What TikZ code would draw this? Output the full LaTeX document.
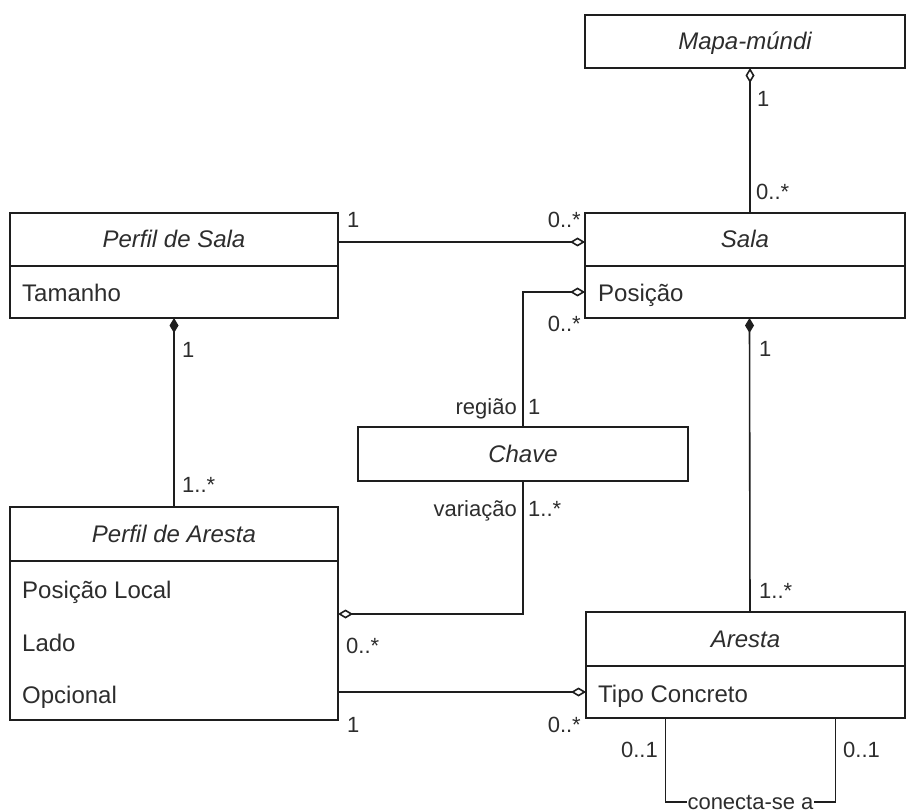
\documentclass[tikz,border=0pt]{standalone}
\usepackage{fontspec}
\setmainfont{Liberation Sans}
\usetikzlibrary{arrows.meta, positioning}
\usepackage{xcolor}
\definecolor{zline}{RGB}{30, 30, 30}
\definecolor{ztext}{RGB}{45, 45, 45}

\begin{document}
\begin{tikzpicture}[
  x=1pt, y=-1pt,
  headbox/.style={rectangle, draw=zline, line width=1.5pt, outer sep=0pt, inner sep=0pt,
                  minimum height=53pt, text height=17pt, text depth=0pt,
                  font=\fontsize{24}{28}\selectfont\itshape, text=ztext},
  bodybox/.style={rectangle, draw=zline, line width=1.5pt, outer sep=0pt, inner sep=0pt},
  attrtext/.style={anchor=base west, inner sep=0pt, font=\fontsize{24}{28}\selectfont, text=ztext},
  multtext/.style={inner sep=0pt, font=\fontsize{22}{26}\selectfont, text=ztext},
  assoc/.style={line width=1.6pt, zline},
  agg/.style={assoc, -{Diamond[open, length=15pt, width=9pt]}},
  comp/.style={assoc, -{Diamond[length=15pt, width=9pt]}}
]
\useasboundingbox (0,0) rectangle (906,810);

% Classes
\node[headbox, minimum width=320pt] (mapa) at (745,41.5) {Mapa-múndi};

\node[headbox, minimum width=320pt] (sala) at (745,239.5) {Sala};
\node[bodybox, minimum width=320pt, minimum height=52pt, below=0pt of sala] (salab) {};
\node[attrtext] (salapos) at ([xshift=13pt, yshift=-36pt]salab.north west) {Posição};

\node[headbox, minimum width=328pt] (psala) at (174,239.5) {Perfil de Sala};
\node[bodybox, minimum width=328pt, minimum height=52pt, below=0pt of psala] (psalab) {};
\node[attrtext] (psalatam) at ([xshift=12pt, yshift=-36pt]psalab.north west) {Tamanho};

\node[headbox, minimum width=330pt, minimum height=54pt] (chave) at (523,454) {Chave};

\node[headbox, minimum width=328pt, minimum height=54pt] (pares) at (174,534) {Perfil de Aresta};
\node[bodybox, minimum width=328pt, minimum height=159pt, below=0pt of pares] (paresb) {};
\node[attrtext] (paresloc) at ([xshift=12pt, yshift=-37pt]paresb.north west) {Posição Local};
\node[attrtext] (pareslado) at ([xshift=12pt, yshift=-90pt]paresb.north west) {Lado};
\node[attrtext] (paresopc) at ([xshift=12pt, yshift=-142pt]paresb.north west) {Opcional};

\node[headbox, minimum width=319pt, minimum height=54pt] (aresta) at (745.5,639) {Aresta};
\node[bodybox, minimum width=319pt, minimum height=52pt, below=0pt of aresta] (arestab) {};
\node[attrtext] (arestatipo) at ([xshift=12pt, yshift=-36pt]arestab.north west) {Tipo Concreto};

% Associations
\draw[agg] ([xshift=5pt]sala.north) -- ([xshift=5pt]mapa.south);
\draw[agg] ([yshift=-2.5pt]psala.east) -- ([yshift=-2.5pt]sala.west);
\draw[comp] (pares.north) -- (psalab.south);
\draw[agg] (chave.north) |- (salab.west);
\draw[agg] (chave.south) |- ([yshift=-53pt]paresb.north east);
\draw[comp] ([xshift=4.5pt]aresta.north) -- ([xshift=4.5pt]salab.south);
\draw[agg] (arestab.west -| paresb.east) -- (arestab.west);

% Self association on Aresta
\coordinate (selfa) at ([xshift=-80pt, yshift=-84pt]arestab.south);
\coordinate (selfb) at ([xshift=90pt, yshift=-84pt]arestab.south);
\draw[assoc] ([xshift=-80pt]arestab.south) -- (selfa)
  -- node[multtext, fill=white, inner xsep=1pt, inner ysep=2pt] (conecta) {conecta-se a} (selfb)
  -- ([xshift=90pt]arestab.south);

% Multiplicities and roles
\node[multtext, anchor=base west] (m1) at (757,107) {1};
\node[multtext, anchor=base west] (m2) at (756,200) {0..*};
\node[multtext, anchor=base west] (m3) at (347,228) {1};
\node[multtext, anchor=base east] (m4) at (581,228) {0..*};
\node[multtext, anchor=base east] (m5) at (581,332) {0..*};
\node[multtext, anchor=base west] (m6) at (182,358) {1};
\node[multtext, anchor=base west] (m7) at (182,493) {1..*};
\node[multtext, anchor=base east] (regiao) at (517,415) {região};
\node[multtext, anchor=base west] (m8) at (528,415) {1};
\node[multtext, anchor=base east] (variacao) at (517,517) {variação};
\node[multtext, anchor=base west] (m9) at (528,517) {1..*};
\node[multtext, anchor=base west] (m10) at (346,653) {0..*};
\node[multtext, anchor=base west] (m11) at (347,732) {1};
\node[multtext, anchor=base east] (m12) at (581,732) {0..*};
\node[multtext, anchor=base west] (m13) at (759,357) {1};
\node[multtext, anchor=base west] (m14) at (759,598) {1..*};
\node[multtext, anchor=base east] (m15) at (658,757) {0..1};
\node[multtext, anchor=base west] (m16) at (843,757) {0..1};

\end{tikzpicture}
\end{document}
